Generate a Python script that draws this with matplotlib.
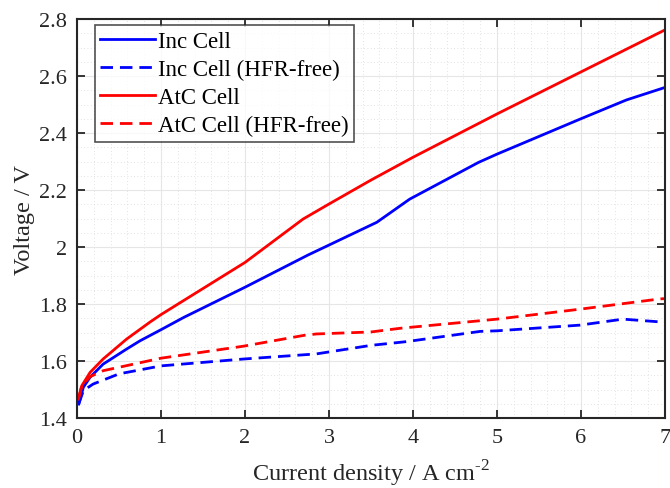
import matplotlib.pyplot as plt
from matplotlib.ticker import MultipleLocator

plt.rcParams['font.family'] = ['Liberation Serif', 'DejaVu Serif']
plt.rcParams['mathtext.fontset'] = 'custom'
plt.rcParams['mathtext.rm'] = 'Liberation Serif'

# current density (A cm-2) and voltage (V)
inc_j = [0.02, 0.075, 0.155, 0.31, 0.59, 0.75, 1.0, 1.27, 2.0, 2.75, 3.0, 3.57, 3.96, 4.78, 5.0, 5.99, 6.54, 7.0]
inc_v = [1.449, 1.508, 1.543, 1.589, 1.642, 1.671, 1.710, 1.753, 1.859, 1.972, 2.007, 2.087, 2.168, 2.297, 2.326, 2.449, 2.516, 2.560]

inc_hfr_j = [0.02, 0.075, 0.19, 0.5, 1.0, 1.98, 2.85, 3.5, 3.92, 4.8, 5.0, 5.99, 6.5, 7.0]
inc_hfr_v = [1.449, 1.496, 1.519, 1.555, 1.583, 1.607, 1.625, 1.655, 1.668, 1.704, 1.706, 1.726, 1.747, 1.736]

atc_j = [0.016, 0.056, 0.155, 0.31, 0.59, 0.87, 1.0, 2.0, 2.69, 3.0, 3.5, 4.0, 5.0, 5.99, 6.98]
atc_v = [1.467, 1.513, 1.560, 1.607, 1.677, 1.737, 1.763, 1.946, 2.098, 2.151, 2.235, 2.315, 2.467, 2.613, 2.759]

atc_hfr_j = [0.016, 0.056, 0.155, 0.31, 1.0, 1.98, 2.7, 2.85, 3.5, 3.85, 5.0, 5.99, 6.94, 7.0]
atc_hfr_v = [1.467, 1.513, 1.545, 1.566, 1.610, 1.652, 1.690, 1.695, 1.702, 1.715, 1.747, 1.782, 1.818, 1.819]

fig = plt.figure(figsize=(6.7, 4.89), dpi=100)
ax = fig.add_axes([0.115, 0.1431, 0.8775, 0.8159])

dash = (0, (4.5, 2.5))
ax.plot(inc_j, inc_v, color='#0000ff', lw=2, label='Inc Cell')
ax.plot(inc_hfr_j, inc_hfr_v, color='#0000ff', lw=2, ls=dash, label='Inc Cell (HFR-free)')
ax.plot(atc_j, atc_v, color='#ff0000', lw=2, label='AtC Cell')
ax.plot(atc_hfr_j, atc_hfr_v, color='#ff0000', lw=2, ls=dash, label='AtC Cell (HFR-free)')

ax.set_xlim(0, 7)
ax.set_ylim(1.4, 2.8)
ax.xaxis.set_major_locator(MultipleLocator(1))
ax.xaxis.set_minor_locator(MultipleLocator(0.2))
ax.yaxis.set_minor_locator(MultipleLocator(0.05))
ax.set_yticks([1.4, 1.6, 1.8, 2.0, 2.2, 2.4, 2.6, 2.8])
ax.set_yticklabels(['1.4', '1.6', '1.8', '2', '2.2', '2.4', '2.6', '2.8'])

ax.grid(True, which='major', color='#e6e6e6', lw=0.8)
ax.grid(True, which='minor', color='#d9d9d9', lw=0.6, ls=(0, (1, 3)))
ax.set_axisbelow(True)

ax.tick_params(which='major', direction='in', length=6, width=1.3, top=True, right=True,
               labelsize=16, colors='#262626', pad=7)
ax.tick_params(which='minor', length=0, top=True, right=True)
for s in ax.spines.values():
    s.set_linewidth(1.5)
    s.set_color('#262626')

ax.set_xlabel('Current density / A cm$^{\\text{-2}}$', fontsize=17.5, color='#262626', labelpad=8)
ax.set_ylabel('Voltage / V', fontsize=17.5, color='#262626', labelpad=3)

leg = ax.legend(loc='upper left', bbox_to_anchor=(0.03, 0.985), borderaxespad=0,
                fontsize=16.5, frameon=True, fancybox=False, edgecolor='#262626',
                handlelength=2.4, handletextpad=0.1, borderpad=0.25, labelspacing=0.3)
leg.get_frame().set_linewidth(1.2)

fig.savefig('out.png', dpi=100)
